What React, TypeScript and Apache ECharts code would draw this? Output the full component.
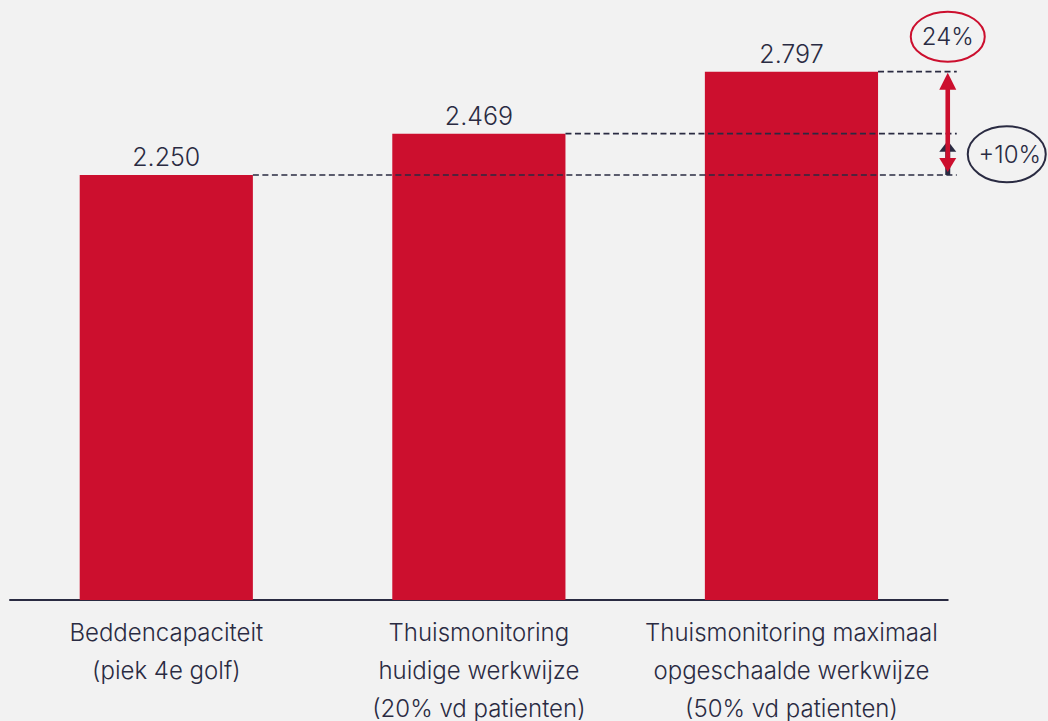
import React, { useEffect, useRef } from "react";
import * as echarts from "echarts";

const categories = [
  "Beddencapaciteit\n(piek 4e golf)",
  "Thuismonitoring\nhuidige werkwijze\n(20% vd patienten)",
  "Thuismonitoring maximaal\nopgeschaalde werkwijze\n(50% vd patienten)",
];
const values = [2250, 2469, 2797];
const valueLabels = ["2.250", "2.469", "2.797"];
const increaseLabels = ["+10%", "24%"];

const RED = "#cc0f2e";
const NAVY = "#2a2b42";
const BG = "#f2f2f2";
const FONT = "Inter, 'Liberation Sans', sans-serif";

export default function App() {
  const ref = useRef<HTMLDivElement>(null);
  useEffect(() => {
    if (!ref.current) return;
    const chart = echarts.init(ref.current, null, { renderer: "svg" });
    chart.setOption({
      animation: false,
      backgroundColor: BG,
      grid: { left: 10, right: 100.25, top: 33.33, bottom: 121, outerBoundsMode: "none", containLabel: false },
      xAxis: {
        type: "category",
        data: categories,
        axisLine: { lineStyle: { color: NAVY, width: 2 } },
        axisTick: { show: false },
        axisLabel: {
          color: NAVY,
          fontSize: 24,
          lineHeight: 38,
          margin: 13,
          fontFamily: FONT,
          fontWeight: 300,
          interval: 0,
        },
      },
      yAxis: { type: "value", min: 0, max: 3000, show: false, splitLine: { show: false } },
      series: [
        {
          type: "bar",
          data: values,
          barWidth: "55.4%",
          itemStyle: { color: RED },
          label: {
            show: true,
            position: "top",
            distance: 5,
            color: NAVY,
            fontSize: 25,
            fontFamily: FONT,
            fontWeight: 300,
            formatter: (p: any) => valueLabels[p.dataIndex],
          },
        },
      ],
    });

    const px = (i: number) => chart.convertToPixel({ xAxisIndex: 0, yAxisIndex: 0 }, [i, values[i]]) as number[];
    const p0 = px(0), p1 = px(1), p2 = px(2);
    const band = p1[0] - p0[0];
    const half = (band * 0.554) / 2;
    const arrowX = p2[0] + band / 2;
    const dashEnd = arrowX + 9;
    const dash = { stroke: NAVY, lineWidth: 1.6, lineDash: [6, 3.5] };
    const tri = (x: number, tipY: number, baseY: number, color: string) => ({
      type: "polygon",
      z: 20,
      shape: { points: [[x, tipY], [x - 8.5, baseY], [x + 8.5, baseY]] },
      style: { fill: color },
    });
    chart.setOption({
      graphic: [
        { type: "line", z: 10, shape: { x1: p0[0] + half, y1: p0[1], x2: dashEnd, y2: p0[1] }, style: dash },
        { type: "line", z: 10, shape: { x1: p1[0] + half, y1: p1[1], x2: dashEnd, y2: p1[1] }, style: dash },
        { type: "line", z: 10, shape: { x1: p2[0] + half, y1: p2[1], x2: dashEnd, y2: p2[1] }, style: dash },
        // navy arrow (bar1 -> bar2)
        { type: "rect", z: 20, shape: { x: arrowX - 2.5, y: p1[1] + 14, width: 5, height: p0[1] - p1[1] - 14 }, style: { fill: NAVY } },
        tri(arrowX, p1[1] + 7, p1[1] + 18, NAVY),
        // red double arrow (bar1 -> bar3)
        { type: "rect", z: 20, shape: { x: arrowX - 2.3, y: p2[1] + 12, width: 4.6, height: p0[1] - p2[1] - 24 }, style: { fill: RED } },
        tri(arrowX, p2[1] + 1, p2[1] + 18, RED),
        tri(arrowX, p0[1] - 3, p0[1] - 17, RED),
        // ellipses
        {
          type: "ellipse",
          z: 20,
          shape: { cx: arrowX, cy: p2[1] - 35, rx: 37, ry: 25 },
          style: { fill: BG, stroke: RED, lineWidth: 2 },
        },
        {
          type: "text",
          z: 21,
          x: arrowX,
          y: p2[1] - 35,
          style: { text: increaseLabels[1], fill: NAVY, fontSize: 24, fontFamily: FONT, fontWeight: 300, align: "center", verticalAlign: "middle" },
        },
        {
          type: "ellipse",
          z: 20,
          shape: { cx: arrowX + 59, cy: (p0[1] + p1[1]) / 2, rx: 39, ry: 28 },
          style: { fill: BG, stroke: NAVY, lineWidth: 2 },
        },
        {
          type: "text",
          z: 21,
          x: arrowX + 62,
          y: (p0[1] + p1[1]) / 2,
          style: { text: increaseLabels[0], fill: NAVY, fontSize: 24, fontFamily: FONT, fontWeight: 300, align: "center", verticalAlign: "middle" },
        },
      ],
    });
    return () => chart.dispose();
  }, []);
  return (
    <div
      ref={ref}
      style={{ position: "fixed", left: 0, top: 0, width: 1048, height: 721, background: BG }}
    />
  );
}
